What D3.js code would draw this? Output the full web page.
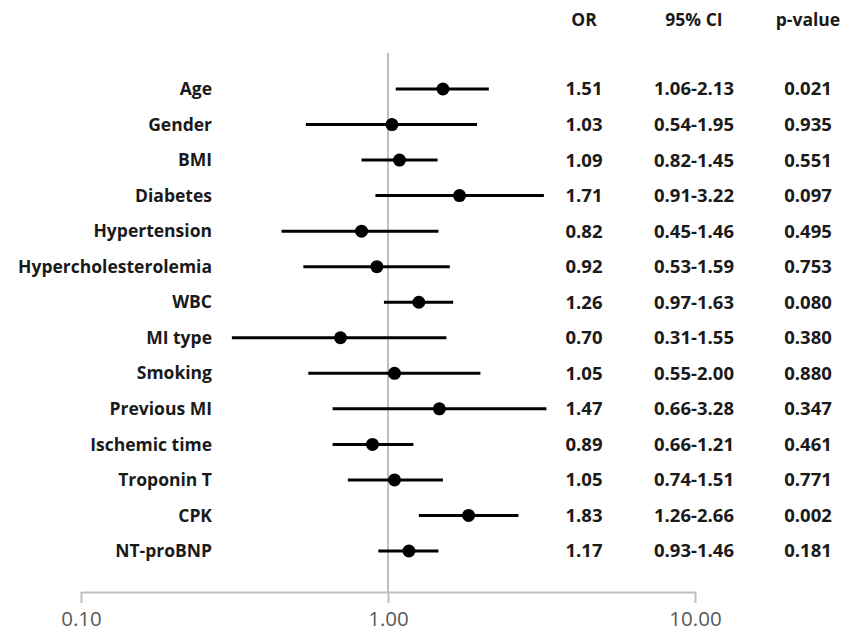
<!DOCTYPE html>
<html>
<head>
<meta charset="utf-8">
<script src="https://cdn.jsdelivr.net/npm/d3@7"></script>
<style>
  body { margin: 0; background: #fff; }
  svg text { font-family: "Open Sans", sans-serif; }
</style>
</head>
<body>
<svg width="845" height="631"></svg>
<script>
// data
var labels = ['Age', 'Gender', 'BMI', 'Diabetes', 'Hypertension', 'Hypercholesterolemia', 'WBC',
  'MI type', 'Smoking', 'Previous MI', 'Ischemic time', 'Troponin T', 'CPK', 'NT-proBNP'];
var orValues = [1.51, 1.03, 1.09, 1.71, 0.82, 0.92, 1.26, 0.70, 1.05, 1.47, 0.89, 1.05, 1.83, 1.17];
var ciLow = [1.06, 0.54, 0.82, 0.91, 0.45, 0.53, 0.97, 0.31, 0.55, 0.66, 0.66, 0.74, 1.26, 0.93];
var ciHigh = [2.13, 1.95, 1.45, 3.22, 1.46, 1.59, 1.63, 1.55, 2.00, 3.28, 1.21, 1.51, 2.66, 1.46];
var pValues = ['0.021', '0.935', '0.551', '0.097', '0.495', '0.753', '0.080', '0.380', '0.880',
  '0.347', '0.461', '0.771', '0.002', '0.181'];
var tickValues = [0.1, 1, 10];

var svg = d3.select('svg');

// log x-scale
var x = d3.scaleLog()
  .domain([0.1, 10])
  .range([81, 695]);

// rows
var y = d3.scalePoint()
  .domain(labels)
  .range([89, 551]);

var axisY = 592;

// reference line at 1
svg.append('line')
  .attr('x1', x(1)).attr('x2', x(1))
  .attr('y1', 53).attr('y2', axisY)
  .attr('stroke', '#bfbfbf')
  .attr('stroke-width', 2);

// x axis
var x_axis = d3.axisBottom()
  .scale(x)
  .tickValues(tickValues)
  .tickFormat(d3.format('.2f'))
  .tickSize(11)
  .tickSizeOuter(0)
  .tickPadding(8);

var gx = svg.append('g')
  .attr('transform', 'translate(0,' + axisY + ')')
  .call(x_axis);
gx.select('.domain').attr('stroke', '#bfbfbf').attr('stroke-width', 2);
gx.selectAll('.tick line').attr('stroke', '#bfbfbf').attr('stroke-width', 2);
gx.selectAll('.tick text')
  .attr('fill', '#595959')
  .style('font-size', '20.5px')
  .style('font-family', 'Open Sans, sans-serif');

// confidence intervals
svg.append('g').selectAll('line')
  .data(labels)
  .join('line')
  .attr('x1', function (d, i) { return x(ciLow[i]); })
  .attr('x2', function (d, i) { return x(ciHigh[i]); })
  .attr('y1', function (d) { return y(d); })
  .attr('y2', function (d) { return y(d); })
  .attr('stroke', '#000')
  .attr('stroke-width', 3);

// odds ratio points
svg.append('g').selectAll('circle')
  .data(labels)
  .join('circle')
  .attr('cx', function (d, i) { return x(orValues[i]); })
  .attr('cy', function (d) { return y(d); })
  .attr('r', 6.5)
  .attr('fill', '#000');

// row labels
svg.append('g').selectAll('text')
  .data(labels)
  .join('text')
  .attr('x', 212)
  .attr('y', function (d) { return y(d); })
  .attr('dy', '0.35em')
  .attr('text-anchor', 'end')
  .style('font-size', '17.5px')
  .style('font-weight', 'bold')
  .attr('fill', '#1a1a1a')
  .text(function (d) { return d; });

// table columns
var cols = [
  { head: 'OR', x: 584, vals: orValues.map(d3.format('.2f')) },
  { head: '95% CI', x: 694, vals: ciLow.map(function (d, i) { return d3.format('.2f')(d) + '-' + d3.format('.2f')(ciHigh[i]); }) },
  { head: 'p-value', x: 808, vals: pValues }
];

cols.forEach(function (c) {
  svg.append('text')
    .attr('x', c.x).attr('y', 20)
    .attr('dy', '0.35em')
    .attr('text-anchor', 'middle')
    .style('font-size', '17.5px')
    .style('font-weight', 'bold')
    .attr('fill', '#1a1a1a')
    .text(c.head);

  svg.append('g').selectAll('text')
    .data(c.vals)
    .join('text')
    .attr('x', c.x)
    .attr('y', function (d, i) { return y(labels[i]); })
    .attr('dy', '0.35em')
    .attr('text-anchor', 'middle')
    .style('font-size', '18.5px')
    .style('font-weight', 'bold')
    .attr('fill', '#1a1a1a')
    .text(function (d) { return d; });
});
</script>
</body>
</html>
